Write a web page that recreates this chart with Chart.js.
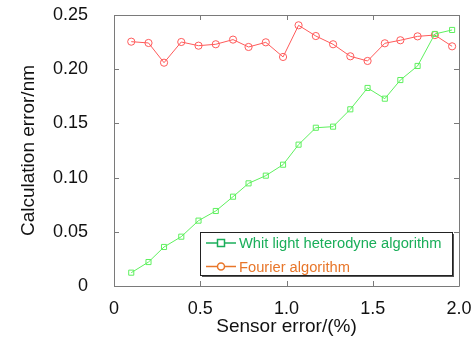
<!DOCTYPE html>
<html>
<head>
<meta charset="utf-8">
<script src="https://cdn.jsdelivr.net/npm/chart.js@4/dist/chart.umd.min.js"></script>
<style>
html,body{margin:0;padding:0;background:#fff;}
#wrap{width:476px;height:345px;}
</style>
</head>
<body>
<div id="wrap"><canvas id="c" width="476" height="345"></canvas></div>
<script>
const sensorError = [0.10,0.20,0.29,0.39,0.49,0.59,0.69,0.78,0.88,0.98,1.07,1.17,1.27,1.37,1.47,1.57,1.66,1.76,1.86,1.96];
const whiteLight = [0.0123,0.0221,0.036,0.0455,0.0603,0.0692,0.0824,0.0947,0.1018,0.1119,0.1304,0.146,0.147,0.163,0.1827,0.1728,0.190,0.203,0.2325,0.2362];
const fourier = [0.2254,0.2242,0.206,0.2251,0.2217,0.223,0.2273,0.2205,0.2248,0.2113,0.2405,0.2306,0.223,0.2119,0.2076,0.2239,0.2267,0.2303,0.2315,0.2211];
const seriesNames = ['Whit light heterodyne algorithm','Fourier algorithm'];
const xTickLabels = ['0','0.5','1.0','1.5','2.0'];
const yTickLabels = ['0','0.05','0.10','0.15','0.20','0.25'];
const xTickValues = [0,0.5,1.0,1.5,2.0];
const yTickValues = [0,0.05,0.10,0.15,0.20,0.25];

const FONT = '"Liberation Sans", Arial, sans-serif';
const legendColors = ['#1aae5a','#e8762a'];

const frameTicks = {
  id:'frameTicks',
  afterDraw(chart){
    const {ctx, chartArea:a, scales} = chart;
    ctx.save();
    ctx.strokeStyle = '#7a7a7a';
    ctx.lineWidth = 1;
    ctx.beginPath();
    ctx.rect(Math.round(a.left)+0.5, Math.round(a.top)+0.5, Math.round(a.right-a.left), Math.round(a.bottom-a.top));
    ctx.stroke();
    const L = 5;
    ctx.beginPath();
    xTickValues.forEach(v=>{
      const px = Math.round(scales.x.getPixelForValue(v))+0.5;
      ctx.moveTo(px,a.bottom); ctx.lineTo(px,a.bottom-L);
      ctx.moveTo(px,a.top); ctx.lineTo(px,a.top+L);
    });
    yTickValues.forEach(v=>{
      const py = Math.round(scales.y.getPixelForValue(v))+0.5;
      ctx.moveTo(a.left,py); ctx.lineTo(a.left+L,py);
      ctx.moveTo(a.right,py); ctx.lineTo(a.right-L,py);
    });
    ctx.stroke();
    ctx.restore();
  }
};

const boxLegend = {
  id:'boxLegend',
  afterDraw(chart){
    const {ctx, chartArea:a} = chart;
    const x0 = a.left + 86, y0 = a.bottom - 54, w = 252, h = 43;
    ctx.save();
    ctx.fillStyle = '#555';
    ctx.fillRect(x0+2, y0+2, w, h);
    ctx.fillStyle = '#fff';
    ctx.fillRect(x0, y0, w, h);
    ctx.strokeStyle = '#222';
    ctx.lineWidth = 1;
    ctx.strokeRect(x0+0.5, y0+0.5, w, h);
    ctx.font = '14.7px ' + FONT;
    ctx.textBaseline = 'middle';
    chart.data.datasets.forEach((ds,i)=>{
      const cy = y0 + 11 + i*23.5;
      const col = legendColors[i];
      ctx.strokeStyle = col; ctx.lineWidth = 1.5;
      ctx.beginPath(); ctx.moveTo(x0+6,cy); ctx.lineTo(x0+36,cy); ctx.stroke();
      ctx.fillStyle = '#fff';
      if(i===0){
        ctx.fillRect(x0+17.5,cy-3.5,7,7);
        ctx.strokeRect(x0+17.5,cy-3.5,7,7);
      } else {
        ctx.beginPath(); ctx.arc(x0+21,cy,3.5,0,Math.PI*2); ctx.fill(); ctx.stroke();
      }
      ctx.fillStyle = col;
      ctx.fillText(ds.label, x0+39, cy+1);
    });
    ctx.restore();
  }
};

new Chart(document.getElementById('c'),{
  type:'line',
  data:{
    datasets:[
      {label:seriesNames[0], data:sensorError.map((x,i)=>({x, y:whiteLight[i]})),
       borderColor:'#5ef05e', backgroundColor:'rgba(0,0,0,0)', borderWidth:1,
       pointStyle:'rect', pointRadius:3.6, pointBorderWidth:1, pointBorderColor:'#5ef05e', pointBackgroundColor:'rgba(0,0,0,0)', tension:0, order:0},
      {label:seriesNames[1], data:sensorError.map((x,i)=>({x, y:fourier[i]})),
       borderColor:'#ff5a5a', backgroundColor:'rgba(0,0,0,0)', borderWidth:1,
       pointStyle:'circle', pointRadius:3.6, pointBorderWidth:1, pointBorderColor:'#ff5a5a', pointBackgroundColor:'rgba(0,0,0,0)', tension:0, order:1}
    ]
  },
  options:{
    responsive:false, animation:false, devicePixelRatio:1,
    layout:{padding:{left:0,right:17,top:15,bottom:7}},
    plugins:{legend:{display:false}, tooltip:{enabled:false}},
    scales:{
      x:{type:'linear', min:0, max:2,
         afterBuildTicks:s=>{s.ticks = xTickValues.map(v=>({value:v}));},
         afterFit:s=>{s.height = 52; s.paddingLeft = 0; s.paddingRight = 0;},
         grid:{display:false, drawTicks:false}, border:{display:false},
         ticks:{padding:12, color:'#111', font:{family:FONT,size:18}, callback:(v,i)=>xTickLabels[i]},
         title:{display:true, text:'Sensor error/(%)', color:'#111', font:{family:FONT,size:19}, padding:{top:0,bottom:0}}},
      y:{type:'linear', min:0, max:0.25,
         afterBuildTicks:s=>{s.ticks = yTickValues.map(v=>({value:v}));},
         afterFit:s=>{s.width = 114; s.paddingTop = 0; s.paddingBottom = 0;},
         grid:{display:false, drawTicks:false}, border:{display:false},
         ticks:{padding:26, color:'#111', font:{family:FONT,size:18}, callback:(v,i)=>yTickLabels[i]},
         title:{display:true, text:'Calculation error/nm', color:'#111', font:{family:FONT,size:19}, padding:{top:17,bottom:0}}}
    }
  },
  plugins:[frameTicks, boxLegend]
});
</script>
</body>
</html>
